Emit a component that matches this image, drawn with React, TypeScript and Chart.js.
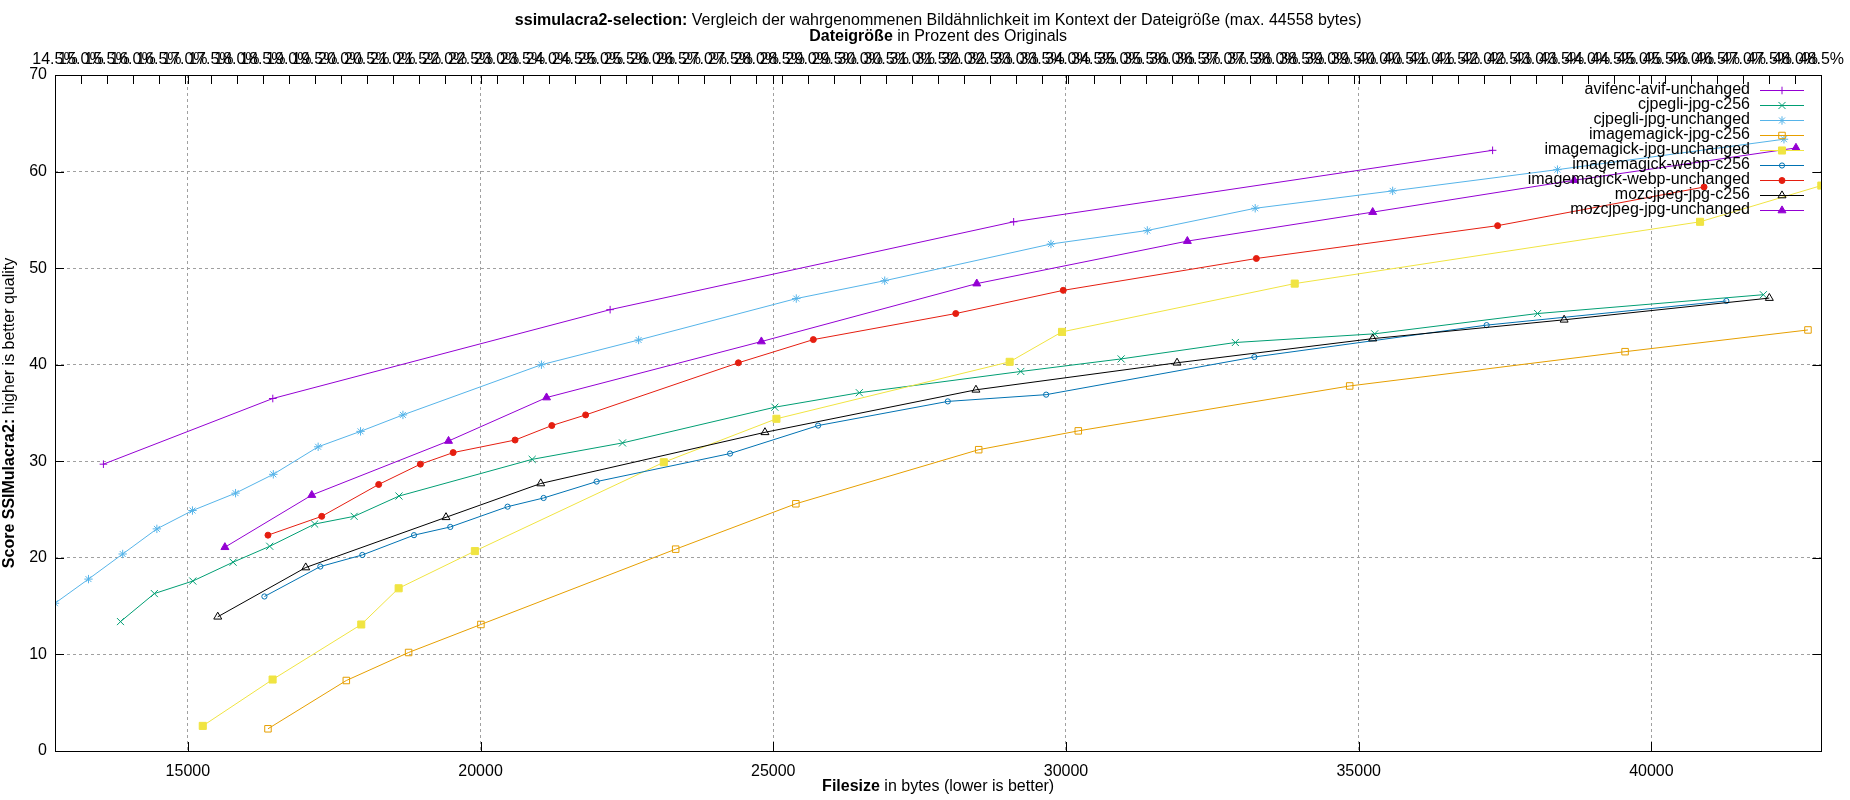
import { useEffect, useRef } from "react";
import { Chart, ChartConfiguration, Plugin, registerables } from "chart.js";
import { drawPoint } from "chart.js/helpers";

Chart.register(...registerables);

const FONT = '"Liberation Sans", Arial, sans-serif';
const MAX_BYTES = 44558;

// series, in gnuplot order
const seriesNames = [
  "avifenc-avif-unchanged",
  "cjpegli-jpg-c256",
  "cjpegli-jpg-unchanged",
  "imagemagick-jpg-c256",
  "imagemagick-jpg-unchanged",
  "imagemagick-webp-c256",
  "imagemagick-webp-unchanged",
  "mozcjpeg-jpg-c256",
  "mozcjpeg-jpg-unchanged",
];

const avifX = [13558, 16451, 22213, 29106, 37287];
const avifY = [29.7, 36.5, 45.7, 54.8, 62.2];

const cjpegliC256X = [13850, 14428, 15085, 15773, 16399, 17166, 17841, 18607, 20882, 22425, 25027, 26470, 29228, 30942, 32893, 35273, 38056, 41912];
const cjpegliC256Y = [13.4, 16.3, 17.6, 19.55, 21.2, 23.5, 24.3, 26.4, 30.2, 31.9, 35.6, 37.1, 39.3, 40.6, 42.3, 43.2, 45.3, 47.25];

const cjpegliUnchX = [12731, 13303, 13887, 14471, 15079, 15815, 16460, 17226, 17950, 18674, 21040, 22700, 25393, 26904, 29743, 31389, 33232, 35580, 38395, 42264];
const cjpegliUnchY = [15.3, 17.8, 20.4, 23.0, 24.9, 26.7, 28.65, 31.5, 33.1, 34.8, 40.0, 42.56, 46.85, 48.7, 52.5, 53.9, 56.2, 58.0, 60.2, 63.35];

const imJpgC256X = [16369, 17707, 18771, 20006, 23333, 25386, 28509, 30210, 34846, 39550, 42674];
const imJpgC256Y = [2.3, 7.3, 10.2, 13.1, 20.9, 25.6, 31.2, 33.15, 37.8, 41.35, 43.6];

const imJpgUnchX = [15255, 16448, 17962, 18601, 19903, 23130, 25054, 29038, 29932, 33907, 40831, 42902];
const imJpgUnchY = [2.6, 7.4, 13.1, 16.85, 20.7, 29.9, 34.4, 40.3, 43.4, 48.4, 54.8, 58.55];

const imWebpC256X = [16308, 17263, 17981, 18863, 19483, 20462, 21077, 21983, 24262, 25766, 27981, 29661, 33218, 37185, 41280];
const imWebpC256Y = [16.0, 19.1, 20.3, 22.35, 23.2, 25.3, 26.2, 27.9, 30.8, 33.7, 36.2, 36.9, 40.8, 44.1, 46.6];

const imWebpUnchX = [16369, 17287, 18260, 18972, 19532, 20590, 21217, 21795, 24404, 25684, 28117, 29953, 33252, 37373, 40899];
const imWebpUnchY = [22.35, 24.3, 27.6, 29.7, 30.9, 32.2, 33.7, 34.8, 40.2, 42.6, 45.3, 47.7, 51.0, 54.4, 58.4];

const mozC256X = [15511, 17014, 19410, 21028, 24858, 28462, 31897, 35239, 38509, 42014];
const mozC256Y = [13.9, 19.0, 24.2, 27.7, 33.0, 37.4, 40.2, 42.7, 44.65, 46.9];

const mozUnchX = [15633, 17117, 19453, 21127, 24797, 28476, 32073, 35239, 38680, 42469];
const mozUnchY = [21.1, 26.5, 32.1, 36.6, 42.4, 48.4, 52.8, 55.8, 59.1, 62.45];

const seriesX = [avifX, cjpegliC256X, cjpegliUnchX, imJpgC256X, imJpgUnchX, imWebpC256X, imWebpUnchX, mozC256X, mozUnchX];
const seriesY = [avifY, cjpegliC256Y, cjpegliUnchY, imJpgC256Y, imJpgUnchY, imWebpC256Y, imWebpUnchY, mozC256Y, mozUnchY];

// gnuplot default line colours and point types
const seriesColors = ["#9400d3", "#009e73", "#56b4e9", "#e69f00", "#f0e442", "#0072b2", "#e51e10", "#000000", "#9400d3"];
const seriesMarkers = ["cross", "crossRot", "star", "rect", "rect", "circle", "circle", "triangle", "triangle"] as const;
const markerFilled = [false, false, false, false, true, false, true, false, true];
const markerRadius = [3.8, 5, 4.2, 4.6, 5, 2.6, 3, 4.6, 4.6];

// x2 axis: percent of original
const X2_MIN = 14.5;
const X2_MAX = 48.5;
const X2_STEP = 0.5;

const X_TICKS = [15000, 20000, 25000, 30000, 35000, 40000];
const Y_TICKS = [0, 10, 20, 30, 40, 50, 60, 70];

const allX = seriesX.flat();
const X_MIN = Math.min(...allX);
const X_MAX = Math.max(...allX);

type Run = [string, boolean];
const titleLine1: Run[] = [
  ["ssimulacra2-selection:", true],
  [` Vergleich der wahrgenommenen Bildähnlichkeit im Kontext der Dateigröße (max. ${MAX_BYTES} bytes)`, false],
];
const titleLine2: Run[] = [
  ["Dateigröße", true],
  [" in Prozent des Originals", false],
];
const xTitle: Run[] = [
  ["Filesize", true],
  [" in bytes (lower is better)", false],
];
const yTitle: Run[] = [
  ["Score SSIMulacra2:", true],
  [" higher is better quality", false],
];

const drawRuns = (ctx: CanvasRenderingContext2D, runs: Run[], cx: number, cy: number) => {
  const widths = runs.map(([t, b]) => {
    ctx.font = `${b ? "bold " : ""}16px ${FONT}`;
    return ctx.measureText(t).width;
  });
  let x = cx - widths.reduce((a, b) => a + b, 0) / 2;
  ctx.textAlign = "left";
  ctx.textBaseline = "middle";
  ctx.fillStyle = "#000";
  runs.forEach(([t, b], i) => {
    ctx.font = `${b ? "bold " : ""}16px ${FONT}`;
    ctx.fillText(t, x, cy);
    x += widths[i];
  });
};

const KEY_TEXT_RIGHT = 1750;
const KEY_LINE_X0 = 1760;
const KEY_LINE_X1 = 1804;
const KEY_TOP = 90;
const KEY_ROW = 15;

const gnuplotPlugin: Plugin<"line"> = {
  id: "gnuplotDecor",
  beforeDatasetsDraw(chart) {
    // key box hides the grid behind it
    const { ctx, chartArea } = chart;
    ctx.save();
    ctx.fillStyle = "#fff";
    ctx.fillRect(1517, chartArea.top + 1, chartArea.right - 1517 - 1, 218 - chartArea.top);
    ctx.restore();
  },
  afterDatasetsDraw(chart) {
    const { ctx } = chart;
    ctx.save();
    seriesNames.forEach((name, i) => {
      const y = KEY_TOP + i * KEY_ROW;
      ctx.font = `16px ${FONT}`;
      ctx.fillStyle = "#000";
      ctx.textAlign = "right";
      ctx.textBaseline = "middle";
      ctx.fillText(name, KEY_TEXT_RIGHT, y);
      ctx.strokeStyle = seriesColors[i];
      ctx.lineWidth = 1;
      ctx.beginPath();
      ctx.moveTo(KEY_LINE_X0, y + 0.5);
      ctx.lineTo(KEY_LINE_X1, y + 0.5);
      ctx.stroke();
      ctx.fillStyle = markerFilled[i] ? seriesColors[i] : "rgba(0,0,0,0)";
      drawPoint(
        ctx,
        { pointStyle: seriesMarkers[i], radius: markerRadius[i], borderWidth: 1, rotation: 0 },
        (KEY_LINE_X0 + KEY_LINE_X1) / 2,
        y + 0.5,
      );
    });
    ctx.restore();
  },
  afterDraw(chart) {
    const { ctx, chartArea } = chart;
    const { left, right, top, bottom } = chartArea;
    const sx = chart.scales.x;
    const sx2 = chart.scales.x2;
    const sy = chart.scales.y;
    ctx.save();
    ctx.strokeStyle = "#000";
    ctx.lineWidth = 1;
    ctx.beginPath();
    const tick = 9;
    sy.ticks.forEach((t) => {
      const py = Math.round(sy.getPixelForValue(t.value)) + 0.5;
      ctx.moveTo(left, py);
      ctx.lineTo(left + tick, py);
      ctx.moveTo(right, py);
      ctx.lineTo(right - tick, py);
    });
    sx.ticks.forEach((t) => {
      const px = Math.round(sx.getPixelForValue(t.value)) + 0.5;
      ctx.moveTo(px, bottom);
      ctx.lineTo(px, bottom - tick);
      ctx.moveTo(px, top);
      ctx.lineTo(px, top + tick);
    });
    sx2.ticks.forEach((t) => {
      const px = Math.round(sx2.getPixelForValue(t.value)) + 0.5;
      ctx.moveTo(px, top);
      ctx.lineTo(px, top + tick);
    });
    ctx.stroke();
    ctx.strokeRect(Math.round(left) + 0.5, Math.round(top) + 0.5, Math.round(right - left), Math.round(bottom - top));

    const cx = (left + right) / 2;
    drawRuns(ctx, titleLine1, cx, 21);
    drawRuns(ctx, titleLine2, cx, 37);
    drawRuns(ctx, xTitle, cx, 787);
    ctx.translate(10, (top + bottom) / 2);
    ctx.rotate(-Math.PI / 2);
    drawRuns(ctx, yTitle, 0, 0);
    ctx.restore();
  },
};

const tickFont = { family: FONT, size: 16 };

const App = () => {
  const canvasRef = useRef<HTMLCanvasElement | null>(null);
  const chartRef = useRef<Chart<"line"> | null>(null);

  useEffect(() => {
    document.body.style.margin = "0";
    if (!canvasRef.current) return;

    const datasets = seriesNames.map((name, i) => ({
      label: name,
      data: seriesX[i].map((x, j) => ({ x, y: seriesY[i][j] })),
      borderColor: seriesColors[i],
      backgroundColor: seriesColors[i],
      borderWidth: 1,
      pointStyle: seriesMarkers[i],
      pointRadius: markerRadius[i],
      pointBorderWidth: 1,
      pointBorderColor: seriesColors[i],
      pointBackgroundColor: markerFilled[i] ? seriesColors[i] : "rgba(0,0,0,0)",
      tension: 0,
      order: seriesNames.length - i,
    }));

    const config: ChartConfiguration<"line"> = {
      type: "line",
      data: { datasets },
      options: {
        responsive: true,
        maintainAspectRatio: false,
        animation: false,
        layout: { padding: { left: 0, right: 27, top: 0, bottom: 0 } },
        plugins: {
          legend: { display: false },
          title: { display: false },
          tooltip: { enabled: false },
        },
        scales: {
          x: {
            type: "linear",
            position: "bottom",
            min: X_MIN,
            max: X_MAX,
            afterFit: (scale) => {
              scale.height = 49;
            },
            afterBuildTicks: (scale) => {
              scale.ticks = X_TICKS.map((value) => ({ value }));
            },
            ticks: {
              color: "#000",
              font: tickFont,
              padding: 11,
              maxRotation: 0,
              minRotation: 0,
              autoSkip: false,
              callback: (v) => String(v),
            },
            grid: { color: "#a0a0a0", lineWidth: 1, drawTicks: false },
            border: { display: false, dash: [3, 3] },
          },
          x2: {
            type: "linear",
            position: "top",
            min: X2_MIN,
            max: X2_MAX,
            afterFit: (scale) => {
              scale.height = 75;
            },
            ticks: {
              stepSize: X2_STEP,
              autoSkip: false,
              includeBounds: false,
              color: "#000",
              font: tickFont,
              padding: 6,
              maxRotation: 0,
              minRotation: 0,
              callback: (v) => `${Number(v).toFixed(1)}%`,
            },
            grid: { display: false, drawTicks: false },
            border: { display: false },
          },
          y: {
            type: "linear",
            position: "left",
            min: Y_TICKS[0],
            max: Y_TICKS[Y_TICKS.length - 1],
            afterFit: (scale) => {
              scale.width = 55;
            },
            afterBuildTicks: (scale) => {
              scale.ticks = Y_TICKS.map((value) => ({ value }));
            },
            ticks: {
              color: "#000",
              font: tickFont,
              padding: 8,
            },
            grid: {
              color: (c) =>
                c.tick && (c.tick.value === Y_TICKS[0] || c.tick.value === Y_TICKS[Y_TICKS.length - 1])
                  ? "rgba(0,0,0,0)"
                  : "#a0a0a0",
              lineWidth: 1,
              drawTicks: false,
            },
            border: { display: false, dash: [3, 3] },
          },
        },
      },
      plugins: [gnuplotPlugin],
    };

    chartRef.current = new Chart(canvasRef.current, config);

    return () => {
      chartRef.current?.destroy();
    };
  }, []);

  return (
    <div style={{ width: 1850, height: 800, position: "relative", background: "#fff" }}>
      <canvas ref={canvasRef} />
    </div>
  );
};

export default App;
